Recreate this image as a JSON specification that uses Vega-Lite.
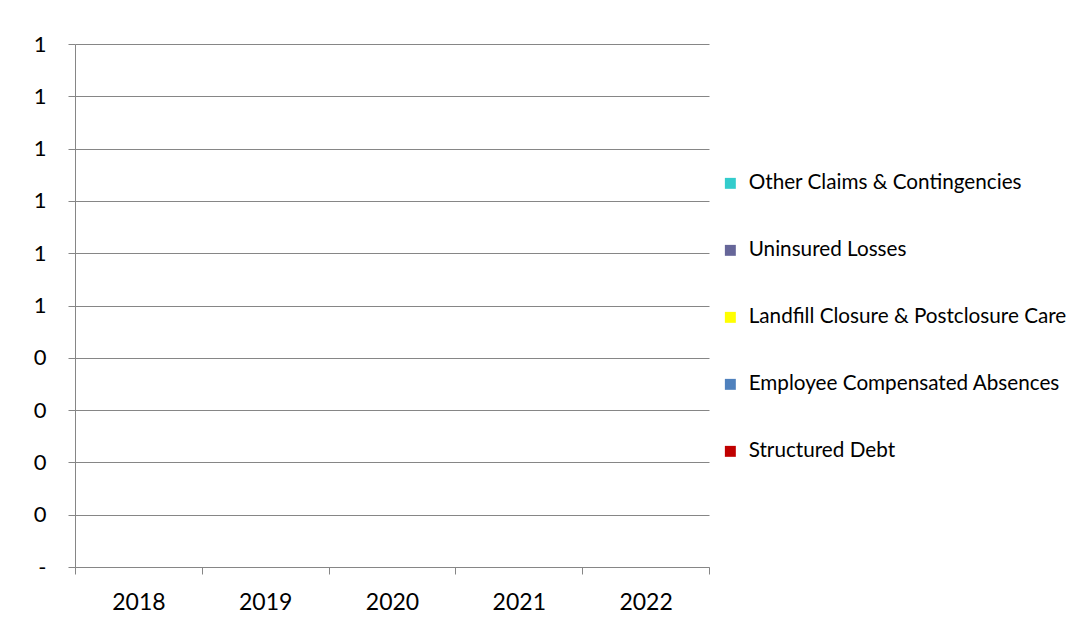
{
  "$schema": "https://vega.github.io/schema/vega-lite/v6.json",
  "width": 634,
  "height": 523,
  "padding": {"left": 33, "top": 33, "right": 0, "bottom": 0},
  "background": "white",
  "data": {
    "values": [
      {"year": "2018", "category": "Structured Debt", "amount": 0},
      {"year": "2018", "category": "Employee Compensated Absences", "amount": 0},
      {"year": "2018", "category": "Landfill Closure & Postclosure Care", "amount": 0},
      {"year": "2018", "category": "Uninsured Losses", "amount": 0},
      {"year": "2018", "category": "Other Claims & Contingencies", "amount": 0},
      {"year": "2019", "category": "Structured Debt", "amount": 0},
      {"year": "2019", "category": "Employee Compensated Absences", "amount": 0},
      {"year": "2019", "category": "Landfill Closure & Postclosure Care", "amount": 0},
      {"year": "2019", "category": "Uninsured Losses", "amount": 0},
      {"year": "2019", "category": "Other Claims & Contingencies", "amount": 0},
      {"year": "2020", "category": "Structured Debt", "amount": 0},
      {"year": "2020", "category": "Employee Compensated Absences", "amount": 0},
      {"year": "2020", "category": "Landfill Closure & Postclosure Care", "amount": 0},
      {"year": "2020", "category": "Uninsured Losses", "amount": 0},
      {"year": "2020", "category": "Other Claims & Contingencies", "amount": 0},
      {"year": "2021", "category": "Structured Debt", "amount": 0},
      {"year": "2021", "category": "Employee Compensated Absences", "amount": 0},
      {"year": "2021", "category": "Landfill Closure & Postclosure Care", "amount": 0},
      {"year": "2021", "category": "Uninsured Losses", "amount": 0},
      {"year": "2021", "category": "Other Claims & Contingencies", "amount": 0},
      {"year": "2022", "category": "Structured Debt", "amount": 0},
      {"year": "2022", "category": "Employee Compensated Absences", "amount": 0},
      {"year": "2022", "category": "Landfill Closure & Postclosure Care", "amount": 0},
      {"year": "2022", "category": "Uninsured Losses", "amount": 0},
      {"year": "2022", "category": "Other Claims & Contingencies", "amount": 0}
    ]
  },
  "mark": {"type": "bar"},
  "encoding": {
    "x": {
      "field": "year",
      "type": "ordinal",
      "scale": {"paddingInner": 0, "paddingOuter": 0},
      "axis": {
        "title": null,
        "labelAngle": 0,
        "tickBand": "extent",
        "labelFontSize": 23,
        "labelPadding": 17,
        "tickSize": 7
      }
    },
    "y": {
      "field": "amount",
      "type": "quantitative",
      "stack": "zero",
      "scale": {"domain": [0, 1], "nice": false},
      "axis": {
        "title": null,
        "values": [0, 0.1, 0.2, 0.3, 0.4, 0.5, 0.6, 0.7, 0.8, 0.9, 1],
        "labelExpr": "datum.value == 0 ? '-' : (datum.value >= 0.5 ? '1' : '0')",
        "labelFontSize": 22,
        "labelPadding": 22,
        "tickSize": 7,
        "grid": true
      }
    },
    "color": {
      "field": "category",
      "type": "nominal",
      "scale": {
        "domain": ["Other Claims & Contingencies", "Uninsured Losses", "Landfill Closure & Postclosure Care", "Employee Compensated Absences", "Structured Debt"],
        "range": ["#33CCCC", "#666699", "#FFFF00", "#4F81BD", "#C00000"]
      },
      "legend": {
        "title": null,
        "orient": "none",
        "legendX": 645,
        "legendY": 129,
        "symbolType": "square",
        "symbolSize": 120,
        "symbolStrokeWidth": 0,
        "labelFontSize": 20.7,
        "labelOffset": 8,
        "rowPadding": 45,
        "labelLimit": 400
      }
    }
  },
  "config": {
    "font": "Lato",
    "view": {"stroke": null},
    "axis": {
      "labelColor": "#000000",
      "domainColor": "#868686",
      "tickColor": "#868686",
      "gridColor": "#868686",
      "gridOpacity": 1,
      "domainWidth": 1,
      "gridWidth": 1
    },
    "legend": {"labelColor": "#000000"}
  }
}
